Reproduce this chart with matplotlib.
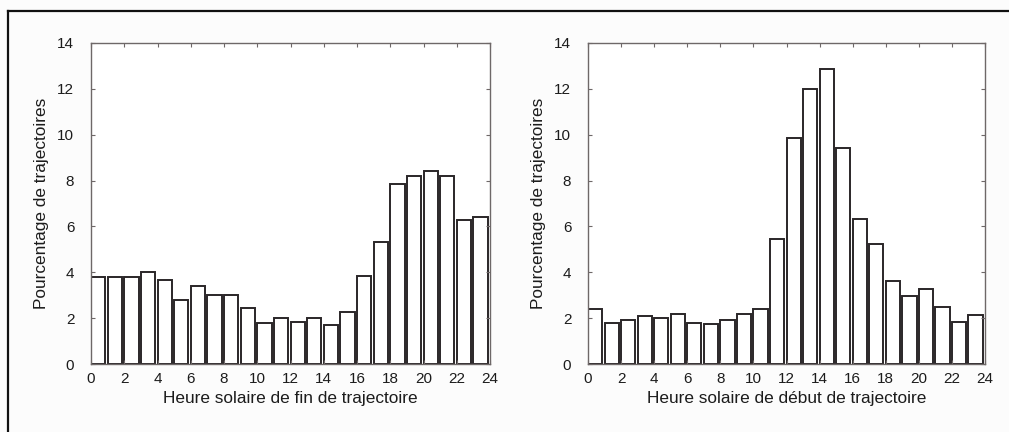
import matplotlib
matplotlib.use("Agg")
import matplotlib.pyplot as plt
from matplotlib.lines import Line2D

plt.rcParams['font.family'] = ['Liberation Sans', 'DejaVu Sans']

hours = list(range(24))

# Pourcentage de trajectoires selon l'heure solaire de fin
fin_values = [3.8, 3.8, 3.8, 4.0, 3.65, 2.8, 3.4, 3.0, 3.0, 2.45,
              1.78, 2.0, 1.83, 2.0, 1.7, 2.27, 3.82, 5.3, 7.85, 8.2,
              8.42, 8.2, 6.3, 6.4]

# Pourcentage de trajectoires selon l'heure solaire de début
debut_values = [2.4, 1.78, 1.92, 2.1, 2.0, 2.17, 1.78, 1.76, 1.92, 2.17,
                2.38, 5.46, 9.84, 12.0, 12.88, 9.4, 6.33, 5.23, 3.64, 2.97,
                3.26, 2.47, 1.82, 2.13]

x_ticks = list(range(0, 25, 2))
y_ticks = list(range(0, 15, 2))

ylabel = "Pourcentage de trajectoires"
xlabels = ["Heure solaire de fin de trajectoire",
           "Heure solaire de début de trajectoire"]

W, H = 1009, 432
fig = plt.figure(figsize=(W / 100, H / 100), dpi=100, facecolor='#fcfcfc')

panels = [
    (fin_values, xlabels[0], (91, 43, 490, 364)),
    (debut_values, xlabels[1], (588, 43, 985, 364)),
]

spine_col = '#6e6868'
text_col = '#1c1c1c'
for values, xl, (x0, y0, x1, y1) in panels:
    ax = fig.add_axes([x0 / W, 1 - y1 / H, (x1 - x0) / W, (y1 - y0) / H])
    ax.set_facecolor('white')
    ax.bar(hours, values, width=0.86, align='edge', facecolor='white',
           edgecolor='#2a2628', linewidth=1.4)
    ax.set_xlim(0, 24)
    ax.set_ylim(0, 14)
    ax.set_xticks(x_ticks)
    ax.set_yticks(y_ticks)
    ax.tick_params(direction='in', top=True, right=True, length=3,
                   width=0.8, color=spine_col, labelsize=11,
                   labelcolor=text_col)
    ax.tick_params(axis='x', pad=6)
    ax.tick_params(axis='y', pad=12)
    for s in ax.spines.values():
        s.set_color(spine_col)
        s.set_linewidth(1.0)
    ax.set_xlabel(xl, fontsize=12.4, color=text_col, labelpad=3)
    ax.set_ylabel(ylabel, fontsize=12.4, color=text_col, labelpad=6)

# Cadre de la figure (bords haut et gauche)
fig.add_artist(Line2D([8 / W, 1.0], [1 - 11 / H, 1 - 11 / H],
                      transform=fig.transFigure, color='#111111', lw=1.6))
fig.add_artist(Line2D([8 / W, 8 / W], [0.0, 1 - 11 / H],
                      transform=fig.transFigure, color='#111111', lw=1.6))

fig.savefig("out.png", dpi=100, facecolor=fig.get_facecolor())
